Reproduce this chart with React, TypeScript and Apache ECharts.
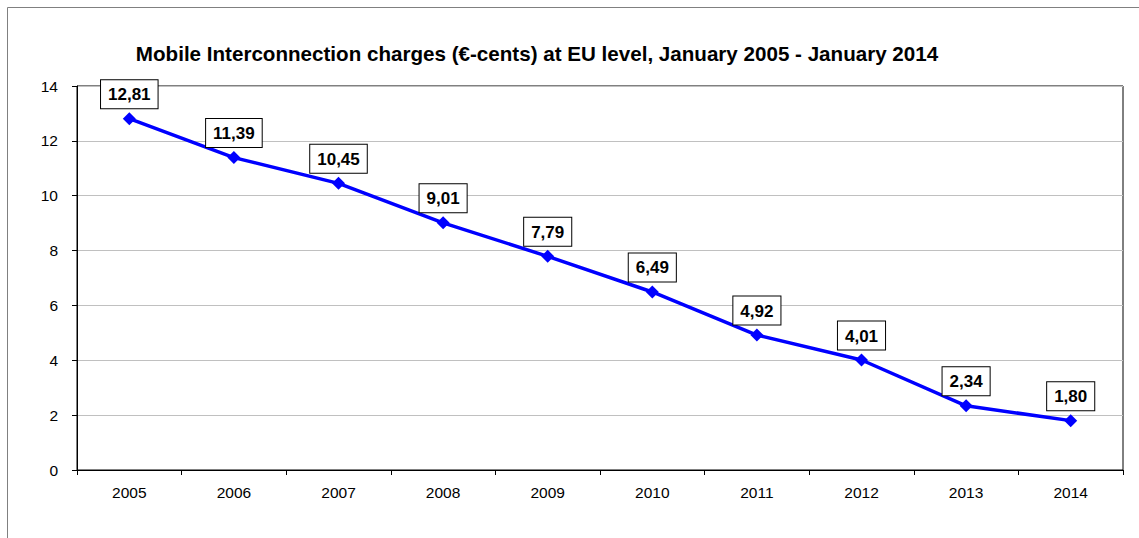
import React, { useEffect, useRef } from "react";
import * as echarts from "echarts";

const title = "Mobile Interconnection charges (€-cents) at EU level, January 2005 - January 2014";
const years = ["2005", "2006", "2007", "2008", "2009", "2010", "2011", "2012", "2013", "2014"];
const charges = [12.81, 11.39, 10.45, 9.01, 7.79, 6.49, 4.92, 4.01, 2.34, 1.8];

export default function App() {
  const ref = useRef<HTMLDivElement>(null);
  useEffect(() => {
    const chart = echarts.init(ref.current!, null, { renderer: "svg" });
    const font = "Liberation Sans, Arial, sans-serif";
    chart.setOption({
      animation: false,
      textStyle: { fontFamily: font },
      title: {
        text: title,
        left: 532,
        textAlign: "center",
        top: 38,
        textStyle: { fontFamily: font, fontSize: 20.6, fontWeight: "bold", color: "#000" },
      },
      graphic: [
        {
          type: "rect",
          shape: { x: 7.5, y: 7.5, width: 1200, height: 600 },
          style: { fill: "none", stroke: "#808080", lineWidth: 1 },
          silent: true,
        },
      ],
      grid: { left: 77, right: 16, top: 86, bottom: 68, show: true, borderColor: "#000", borderWidth: 1, backgroundColor: "transparent" },
      xAxis: {
        type: "category",
        data: years,
        boundaryGap: true,
        axisLine: { lineStyle: { color: "#000", width: 1 } },
        axisTick: { show: true, length: 5, lineStyle: { color: "#000" } },
        axisLabel: { color: "#000", fontSize: 15.5, fontFamily: font, margin: 14 },
      },
      yAxis: {
        type: "value",
        min: 0,
        max: 14,
        interval: 2,
        axisLine: { show: true, lineStyle: { color: "#000", width: 1 } },
        axisTick: { show: true, length: 5, lineStyle: { color: "#000" } },
        axisLabel: { color: "#000", fontSize: 15.5, fontFamily: font, margin: 19 },
        splitLine: { show: true, lineStyle: { color: "#c0c0c0", width: 1 } },
      },
      series: [
        {
          type: "line",
          data: charges,
          symbol: "diamond",
          symbolSize: 13,
          itemStyle: { color: "#0000ff" },
          lineStyle: { color: "#0000ff", width: 3.5 },
          label: {
            show: true,
            position: "top",
            distance: 4,
            formatter: (p: any) => p.value.toFixed(2).replace(".", ","),
            fontFamily: font,
            fontSize: 17,
            fontWeight: "bold",
            color: "#000",
            backgroundColor: "#fff",
            borderColor: "#000",
            borderWidth: 1,
            padding: [6, 7, 5, 7],
          },
        },
      ],
    });
    return () => chart.dispose();
  }, []);
  return <div ref={ref} style={{ width: 1139, height: 538, position: "absolute", left: 0, top: 0 }} />;
}
